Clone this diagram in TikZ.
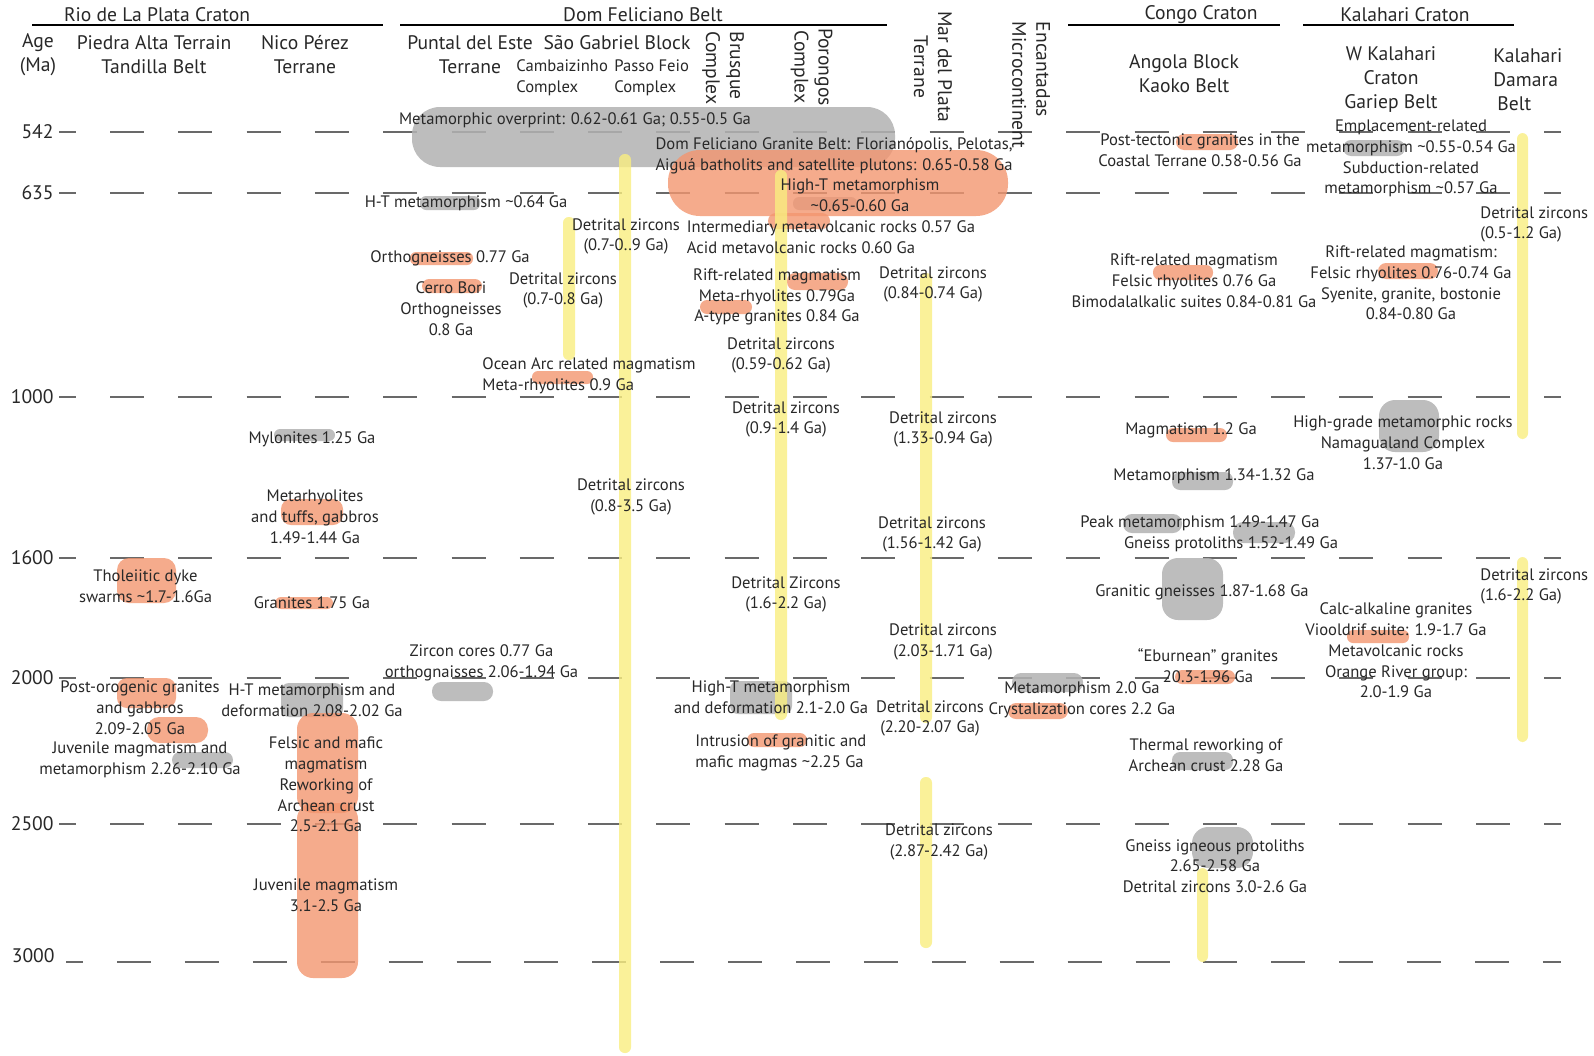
\documentclass[tikz,border=0pt]{standalone}
\usepackage{fontspec}
\setmainfont{PT Sans}
\definecolor{txtc}{RGB}{40,40,40}
\definecolor{dashc}{RGB}{105,105,105}
\definecolor{grayc}{RGB}{178,178,178}
\definecolor{salc}{RGB}{243,150,112}
\definecolor{yelc}{RGB}{249,238,128}
\tikzset{
  bodytxt/.style={font=\fontsize{8.3}{10.4}\selectfont, text=txtc, inner sep=0pt, align=center},
  headtxt/.style={font=\fontsize{9.8}{12}\selectfont, text=txtc, inner sep=0pt, align=center},
  subtxt/.style={font=\fontsize{8.3}{10.5}\selectfont, text=txtc, inner sep=0pt, align=left},
  gridln/.style={draw=dashc, line width=1pt, dash pattern=on 17pt off 17.15pt},
  tickln/.style={draw=dashc, line width=1pt},
  hdrln/.style={draw=black, line width=1.1pt},
  gblob/.style={fill=grayc, fill opacity=0.85},
  sblob/.style={fill=salc, fill opacity=0.8},
  ybar/.style={fill=yelc, fill opacity=0.8, rounded corners=2.9pt},
}
\begin{document}
\begin{tikzpicture}[x=0.5pt,y=-0.5pt]
\fill[white] (0,0) rectangle (1594,1055);
\useasboundingbox (0,0) rectangle (1594,1055);

% header lines
\draw[hdrln] (32,25) -- (383,25);
\draw[hdrln] (400,25) -- (887,25);
\draw[hdrln] (1068,25) -- (1280,25);
\draw[hdrln] (1303,25) -- (1514,25);

% grid lines and ticks
\foreach \yy in {132,193,397,558,678,824} {
  \draw[gridln] (110,\yy) -- (1561,\yy);
  \draw[tickln] (59,\yy) -- (76,\yy);
}
\draw[gridln, dash pattern=on 17pt off 16.95pt] (117,962) -- (1561,962);
\draw[tickln] (66,962) -- (83,962);

% gray blobs
\fill[gblob, rounded corners=14pt] (412,107) rectangle (895,167);
\fill[gblob, rounded corners=3pt] (793,197) rectangle (857,210);
\fill[gblob, rounded corners=3pt] (420,196) rectangle (480,210);
\fill[gblob, rounded corners=3pt] (274,429) rectangle (335,441);
\fill[gblob, rounded corners=4pt] (281,683) rectangle (343,717);
\fill[gblob, rounded corners=4pt] (172,752) rectangle (233,768);
\fill[gblob, rounded corners=4.5pt] (432,682) rectangle (493,701);
\fill[gblob, rounded corners=4pt] (730,681) rectangle (792,714);
\fill[gblob, rounded corners=4.5pt] (1012,673) rectangle (1083,692);
\fill[gblob, rounded corners=4pt] (1172,472) rectangle (1233,490);
\fill[gblob, rounded corners=4.5pt] (1123,514) rectangle (1182,533);
\fill[gblob, rounded corners=5pt] (1233,522) rectangle (1295,543);
\fill[gblob, rounded corners=8pt] (1162,558) rectangle (1223,620);
\fill[gblob, rounded corners=4pt] (1172,752) rectangle (1233,770);
\fill[gblob, rounded corners=8pt] (1192,827) rectangle (1253,868);
\fill[gblob, rounded corners=4pt] (1343,140) rectangle (1405,156);
\fill[gblob, rounded corners=8pt] (1379,400) rectangle (1439,452);

% salmon blobs
\fill[sblob, rounded corners=16pt] (668,150) rectangle (1008,216);
\fill[sblob, rounded corners=4pt] (768,213) rectangle (830,229);
\fill[sblob, rounded corners=4pt] (787,273) rectangle (848,290);
\fill[sblob, rounded corners=3.5pt] (700,300) rectangle (752,314);
\fill[sblob, rounded corners=3pt] (410,252) rectangle (473,265);
\fill[sblob, rounded corners=3.5pt] (422,279) rectangle (482,293);
\fill[sblob, rounded corners=3pt] (532,371) rectangle (593,384);
\fill[sblob, rounded corners=5pt] (281,499) rectangle (343,525);
\fill[sblob, rounded corners=6pt] (117,558) rectangle (176,603);
\fill[sblob, rounded corners=3pt] (275,597) rectangle (333,609);
\fill[sblob, rounded corners=5pt] (117,678) rectangle (176,708);
\fill[sblob, rounded corners=6pt] (147,717) rectangle (208,743);
\fill[sblob, rounded corners=8pt] (297,713) rectangle (358,813);
\fill[sblob, rounded corners=8pt] (297,803) rectangle (358,978);
\fill[sblob, rounded corners=3.5pt] (747,733) rectangle (807,747);
\fill[sblob, rounded corners=4pt] (1008,703) rectangle (1068,719);
\fill[sblob, rounded corners=4pt] (1176,134) rectangle (1238,150);
\fill[sblob, rounded corners=3.5pt] (1153,265) rectangle (1213,280);
\fill[sblob, rounded corners=3.5pt] (1166,428) rectangle (1227,442);
\fill[sblob, rounded corners=3.5pt] (1175,670) rectangle (1235,684);
\fill[sblob, rounded corners=4pt] (1378,263) rectangle (1438,279);
\fill[sblob, rounded corners=3pt] (1347,630) rectangle (1409,643);

% yellow bars
\fill[ybar] (563,217) rectangle (575,360);
\fill[ybar] (619,154) rectangle (631,1053);
\fill[ybar] (775,170) rectangle (787,720);
\fill[ybar] (920,273) rectangle (932,723);
\fill[ybar] (920,777) rectangle (932,948);
\fill[ybar] (1517,133) rectangle (1528,439);
\fill[ybar] (1517,557) rectangle (1528,742);
\fill[ybar] (1197,868) rectangle (1208,962);

% headers
\node[headtxt] (hRio) at (157,15) {Rio de La Plata Craton};
\node[headtxt] (hDom) at (643,15) {Dom Feliciano Belt};
\node[headtxt] (hCongo) at (1201,15) {Congo Craton};
\node[headtxt] (hKal) at (1405,15) {Kalahari Craton};
\node[headtxt] (hAge) at (38,55) {Age\\(Ma)};
\node[headtxt] (hPiedra) at (154,55) {Piedra Alta Terrain\\Tandilla Belt};
\node[headtxt] (hNico) at (305,55) {Nico Pérez\\Terrane};
\node[headtxt] (hPuntal) at (470,55) {Puntal del Este\\Terrane};
\node[headtxt] (hSaoG) at (617,43) {São Gabriel Block};
\node[subtxt, anchor=west] (hCamb) at (516,77.5) {Cambaizinho\\Complex};
\node[subtxt, anchor=west] (hPasso) at (614,77.5) {Passo Feio\\Complex};
\node[headtxt, rotate=-90, align=left] (hBrus) at (723,68) {Brusque\\Complex};
\node[headtxt, rotate=-90] (hPoro) at (811.5,67) {Porongos\\Complex};
\node[headtxt, rotate=-90] (hMdP) at (933,67) {Mar del Plata\\Terrane};
\node[headtxt, rotate=-90, align=left] (hEnc) at (1031,85) {Encantadas\\Microcontinent};
\node[headtxt] (hAngola) at (1184,73.5) {Angola Block\\Kaoko Belt};
\node[headtxt] (hWKal) at (1391,79.5) {W Kalahari\\Craton\\Gariep Belt};
\node[headtxt, align=left, anchor=west] (hKD) at (1493,79.5) {Kalahari\\Damara\\\hspace*{2pt}Belt};

% age labels
\node[headtxt, anchor=east] (a542) at (54,132) {542};
\node[headtxt, anchor=east] (a635) at (54,193) {635};
\node[headtxt, anchor=east] (a1000) at (54,397) {1000};
\node[headtxt, anchor=east] (a1600) at (54,558) {1600};
\node[headtxt, anchor=east] (a2000) at (54,678) {2000};
\node[headtxt, anchor=east] (a2500) at (54,824) {2500};
\node[headtxt, anchor=east] (a3000) at (55,956) {3000};

% body texts
\node[bodytxt] (t1) at (575,120) {Metamorphic overprint: 0.62-0.61 Ga; 0.55-0.5 Ga};
\node[bodytxt] (t2) at (834,155.5) {Dom Feliciano Granite Belt: Florianópolis, Pelotas,\\Aiguá batholits and satellite plutons: 0.65-0.58 Ga};
\node[bodytxt] (t3) at (860,195) {High-T metamorphism\\\textasciitilde0.65-0.60 Ga};
\node[bodytxt] (t4) at (831,228) {Intermediary metavolcanic rocks 0.57 Ga};
\node[bodytxt] (t5) at (801,248) {Acid metavolcanic rocks 0.60 Ga};
\node[bodytxt] (t6) at (777,297) {Rift-related magmatism\\Meta-rhyolites 0.79Ga\\A-type granites 0.84 Ga};
\node[bodytxt] (t7) at (781,355.5) {Detrital zircons\\(0.59-0.62 Ga)};
\node[bodytxt] (t8) at (466,203) {H-T metamorphism \textasciitilde0.64 Ga};
\node[bodytxt] (t9) at (450,258) {Orthogneisses 0.77 Ga};
\node[bodytxt] (t10) at (451,308.5) {Cerro Bori\\Orthogneisses\\0.8 Ga};
\node[bodytxt] (t11) at (563,290.5) {Detrital zircons\\(0.7-0.8 Ga)};
\node[bodytxt] (t12) at (626,236.5) {Detrital zircons\\(0.7-0..9 Ga)};
\node[bodytxt, align=left, anchor=west] (t13) at (482,375.5) {Ocean Arc related magmatism\\Meta-rhyolites 0.9 Ga};
\node[bodytxt] (t14) at (312,439) {Mylonites 1.25 Ga};
\node[bodytxt] (t15) at (315,517) {Metarhyolites\\and tuffs, gabbros\\1.49-1.44 Ga};
\node[bodytxt] (t16) at (145.5,586.5) {Tholeiitic dyke\\swarms \textasciitilde1.7-1.6Ga};
\node[bodytxt] (t17) at (312,603) {Granites 1.75 Ga};
\node[bodytxt] (t18) at (140,708) {Post-orogenic granites\\and gabbros\\2.09-2.05 Ga};
\node[bodytxt] (t19) at (140,760) {Juvenile magmatism and\\metamorphism 2.26-2.10 Ga};
\node[bodytxt] (t20) at (312,700.5) {H-T metamorphism and\\deformation 2.08-2.02 Ga};
\node[bodytxt] (t21) at (326,784.5) {Felsic and mafic\\magmatism\\Reworking of\\Archean crust\\2.5-2.1 Ga};
\node[bodytxt] (t22) at (326,895.5) {Juvenile magmatism\\3.1-2.5 Ga};
\node[bodytxt] (t23) at (481.5,663) {Zircon cores 0.77 Ga\\orthognaisses 2.06-1.94 Ga};
\node[bodytxt] (t24) at (631,497) {Detrital zircons\\(0.8-3.5 Ga)};
\node[bodytxt] (t25) at (786,419.5) {Detrital zircons\\(0.9-1.4 Ga)};
\node[bodytxt] (t26) at (786,594.5) {Detrital Zircons\\(1.6-2.2 Ga)};
\node[bodytxt] (t27) at (771,697.5) {High-T metamorphism\\and deformation 2.1-2.0 Ga};
\node[bodytxt, align=left, anchor=west] (t28) at (695,752.5) {Intrusion of granitic and\\mafic magmas \textasciitilde2.25 Ga};
\node[bodytxt] (t29) at (933,284.5) {Detrital zircons\\(0.84-0.74 Ga)};
\node[bodytxt] (t30) at (943,429.5) {Detrital zircons\\(1.33-0.94 Ga)};
\node[bodytxt] (t31) at (932,534.5) {Detrital zircons\\(1.56-1.42 Ga)};
\node[bodytxt] (t32) at (943,642) {Detrital zircons\\(2.03-1.71 Ga)};
\node[bodytxt] (t33) at (930,718.5) {Detrital zircons\\(2.20-2.07 Ga)};
\node[bodytxt] (t34) at (939,842) {Detrital zircons\\(2.87-2.42 Ga)};
\node[bodytxt] (t35) at (1082,689) {Metamorphism 2.0 Ga};
\node[bodytxt] (t36) at (1082,710) {Crystalization cores 2.2 Ga};
\node[bodytxt] (t37) at (1200,150.5) {Post-tectonic granites in the\\Coastal Terrane 0.58-0.56 Ga};
\node[bodytxt] (t38) at (1194,280.5) {Rift-related magmatism\\Felsic rhyolites 0.76 Ga\\Bimodalalkalic suites 0.84-0.81 Ga};
\node[bodytxt] (t39) at (1191,430) {Magmatism 1.2 Ga};
\node[bodytxt] (t40) at (1214,476) {Metamorphism 1.34-1.32 Ga};
\node[bodytxt] (t41) at (1200,523) {Peak metamorphism 1.49-1.47 Ga};
\node[bodytxt] (t42) at (1231,544) {Gneiss protoliths 1.52-1.49 Ga};
\node[bodytxt] (t43) at (1202,592) {Granitic gneisses 1.87-1.68 Ga};
\node[bodytxt] (t44) at (1208,666) {“Eburnean” granites\\20.3-1.96 Ga};
\node[bodytxt] (t45) at (1206,755.5) {Thermal reworking of\\Archean crust 2.28 Ga};
\node[bodytxt] (t46) at (1215,866) {Gneiss igneous protoliths\\2.65-2.58 Ga\\Detrital zircons 3.0-2.6 Ga};
\node[bodytxt] (t47) at (1411,158.5) {Emplacement-related\\metamorphism \textasciitilde0.55-0.54 Ga\\Subduction-related\\metamorphism \textasciitilde0.57 Ga};
\node[bodytxt, align=left, anchor=west] (t48) at (1480,224.5) {Detrital zircons\\(0.5-1.2 Ga)};
\node[bodytxt] (t49) at (1411,283) {Rift-related magmatism:\\Felsic rhyolites 0.76-0.74 Ga\\Syenite, granite, bostonie\\0.84-0.80 Ga};
\node[bodytxt] (t50) at (1403,442.5) {High-grade metamorphic rocks\\Namagualand Complex\\1.37-1.0 Ga};
\node[bodytxt, align=left, anchor=west] (t51) at (1480,586.5) {Detrital zircons\\(1.6-2.2 Ga)};
\node[bodytxt] (t52) at (1396,650.5) {Calc-alkaline granites\\Viooldrif suite: 1.9-1.7 Ga\\Metavolcanic rocks\\Orange River group:\\2.0-1.9 Ga};
\end{tikzpicture}
\end{document}
